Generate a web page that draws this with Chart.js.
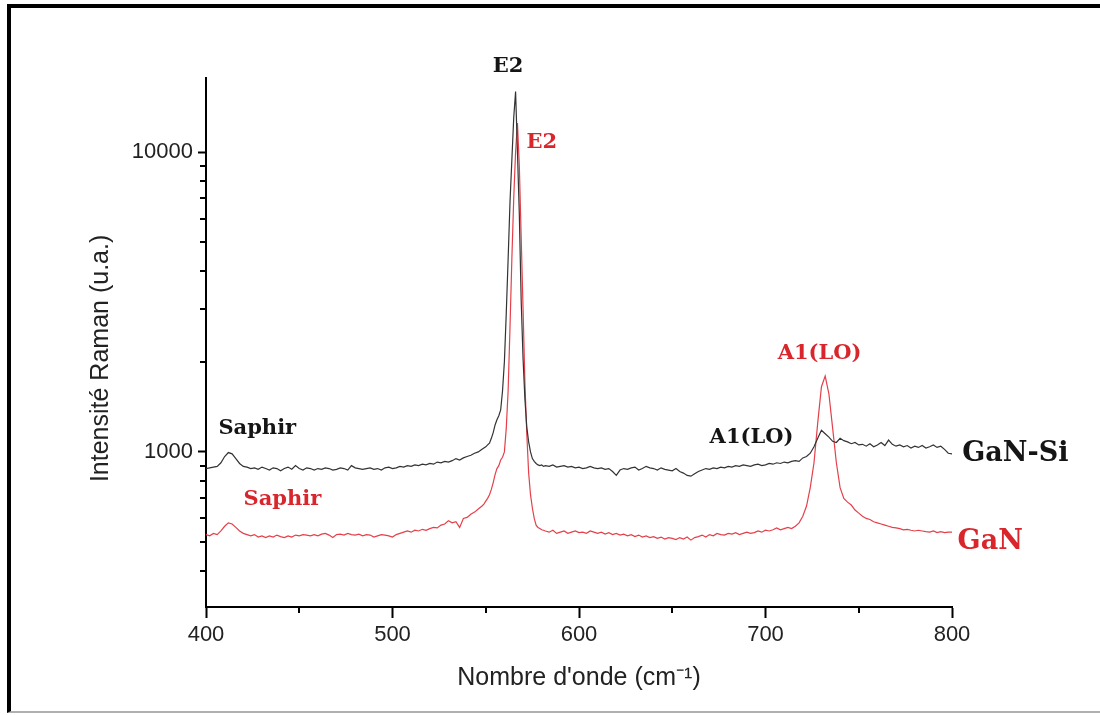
<!DOCTYPE html>
<html>
<head>
<meta charset="utf-8">
<script src="https://cdn.jsdelivr.net/npm/chart.js@4.4.0/dist/chart.umd.min.js"></script>
<style>
  html, body { margin: 0; padding: 0; background: #fff; overflow: hidden; }
  #frame {
    position: absolute; left: 7px; top: 4px; width: 1200px; height: 703px;
    border-left: 4px solid #000; border-top: 4px solid #000; border-bottom: 2px solid #b0b0b0;
  }
  #ramanChart { position: absolute; left: 0; top: 0; }
</style>
</head>
<body>
<div id="frame"></div>
<canvas id="ramanChart" width="1100" height="715"></canvas>
<script>
// sampling grid of the spectra (cm-1): 2 cm-1 steps, 1 cm-1 around the E2 peak
const waveNumbers = [];
for (let w = 400; w <= 548; w += 2) waveNumbers.push(w);
for (let w = 549; w <= 581; w++) waveNumbers.push(w);
for (let w = 582; w <= 800; w += 2) waveNumbers.push(w);

// GaN-Si spectrum (black)
const ganSi = [
  // 400 - 548
  880, 885, 890, 895, 920, 965, 995, 985, 950, 915,
  895, 890, 880, 885, 875, 890, 880, 870, 885, 880,
  865, 880, 890, 875, 900, 880, 870, 885, 880, 870,
  880, 875, 885, 880, 870, 875, 885, 880, 870, 900,
  885, 880, 875, 880, 885, 875, 880, 870, 885, 890,
  880, 885, 895, 890, 900, 895, 905, 900, 910, 905,
  915, 910, 925, 920, 930, 925, 935, 950, 940, 955,
  965, 975, 990, 1000, 1020,
  // 549 - 581
  1030, 1040, 1055, 1070, 1110, 1160, 1230, 1280, 1320, 1380,
  1600, 2000, 2900, 4400, 6800, 9400, 13000, 15900, 10000, 6200,
  3200, 2050, 1500, 1210, 1080, 1000, 950, 930, 915, 905,
  900, 905, 895,
  // 582 - 800
  900, 895, 905, 890, 895, 900, 890, 895, 885, 890,
  880, 885, 895, 885, 880, 885, 875, 880, 860, 835,
  870, 880, 875, 885, 890, 870, 880, 895, 885, 880,
  870, 885, 875, 870, 865, 880, 860, 850, 835, 830,
  845, 860, 870, 880, 875, 885, 880, 890, 885, 895,
  890, 900, 895, 905, 900, 895, 905, 910, 900, 905,
  915, 910, 920, 915, 925, 920, 930, 935, 930, 955,
  965, 990, 1040, 1110, 1180, 1150, 1120, 1085, 1075, 1110,
  1090, 1080, 1065, 1075, 1055, 1060, 1045, 1065, 1040, 1055,
  1075, 1050, 1095, 1060, 1045, 1055, 1040, 1050, 1030, 1045,
  1035, 1050, 1030, 1040, 1055, 1035, 1045, 1020, 990, 985
];

// GaN spectrum (red)
const gan = [
  // 400 - 548
  530, 525, 535, 530, 545, 565, 580, 575, 560, 545,
  535, 530, 525, 530, 520, 525, 518, 525, 520, 528,
  522, 518, 525, 520, 528, 525, 530, 528, 525, 530,
  525, 532, 535, 528, 518, 530, 532, 528, 535, 530,
  528, 532, 525, 530, 528, 520, 525, 530, 528, 525,
  520, 530, 535, 540, 545, 540, 548, 545, 552, 548,
  555, 560, 558, 570, 575, 590, 580, 585, 560, 600,
  605, 620, 630, 645, 660,
  // 549 - 581
  670, 685, 700, 720, 750, 790, 840, 880, 900, 940,
  960, 1000, 1200, 1600, 2600, 4400, 7000, 10000, 12500, 9000,
  5200, 3000, 1700, 1150, 850, 720, 650, 600, 570, 560,
  555, 550, 548,
  // 582 - 800
  545, 540, 548, 535, 540, 545, 535, 540, 545, 538,
  540, 535, 545, 540, 535, 540, 532, 538, 530, 535,
  528, 532, 525, 530, 522, 528, 520, 525, 518, 522,
  515, 520, 512, 518, 515, 510, 518, 512, 520, 508,
  518, 522, 528, 520, 530, 525, 535, 530, 528, 535,
  532, 538, 530, 535, 540, 535, 538, 545, 540, 548,
  545, 550, 558, 550, 555, 560, 555, 565, 580, 610,
  660, 760, 920, 1250, 1650, 1790, 1560, 1200, 920, 760,
  700, 680, 665, 640, 625, 610, 600, 595, 585, 580,
  575, 570, 565, 560, 558, 555, 550, 552, 548, 545,
  548, 545, 542, 540, 545, 538, 542, 538, 540, 540
];

const yMajorTicks = [1000, 10000];
const yMinorTicks = [400, 500, 600, 700, 800, 900, 2000, 3000, 4000, 5000, 6000, 7000, 8000, 9000];
const xMinorTicks = [450, 550, 650, 750];

const xTitle = "Nombre d'onde (cm\u207B\u00B9)";
const yTitle = 'Intensité Raman (u.a.)';

// peak labels, anchored at (wavenumber, intensity)
const black = '#151515';
const red = '#d8262c';
const peakLabels = [
  { text: 'E2', wn: 562, at: 19300, color: black, size: 21 },
  { text: 'E2', wn: 580, at: 10750, color: red, size: 21 },
  { text: 'Saphir', wn: 427.5, at: 1200, color: black, size: 21 },
  { text: 'Saphir', wn: 441, at: 692, color: red, size: 21 },
  { text: 'A1(LO)', wn: 729, at: 2120, color: red, size: 21 },
  { text: 'A1(LO)', wn: 692.5, at: 1117, color: black, size: 21 },
  { text: 'GaN-Si', wn: 834, at: 985, color: black, size: 27 },
  { text: 'GaN', wn: 820.5, at: 501, color: red, size: 27 }
];

const annotate = {
  id: 'annotate',
  afterDraw(chart) {
    const { ctx, scales: { x, y } } = chart;
    ctx.save();

    // minor tick marks
    ctx.strokeStyle = '#000';
    ctx.lineWidth = 2;
    ctx.beginPath();
    xMinorTicks.forEach(v => {
      const px = Math.round(x.getPixelForValue(v));
      ctx.moveTo(px, x.top);
      ctx.lineTo(px, x.top + 6);
    });
    yMinorTicks.forEach(v => {
      const py = Math.round(y.getPixelForValue(v));
      ctx.moveTo(y.right - 6, py);
      ctx.lineTo(y.right, py);
    });
    ctx.stroke();

    // peak labels
    ctx.textAlign = 'center';
    ctx.textBaseline = 'middle';
    peakLabels.forEach(l => {
      ctx.font = `bold ${l.size}px "DejaVu Serif"`;
      ctx.fillStyle = l.color;
      ctx.fillText(l.text, x.getPixelForValue(l.wn), y.getPixelForValue(l.at));
    });

    // y axis title
    ctx.translate(chart.chartArea.left - 105, y.getPixelForValue(2050));
    ctx.rotate(-Math.PI / 2);
    ctx.font = '25px "Liberation Sans"';
    ctx.fillStyle = '#222';
    ctx.fillText(yTitle, 0, 0);
    ctx.restore();
  }
};

const ctx = document.getElementById('ramanChart').getContext('2d');

const chart = new Chart(ctx, {
  type: 'line',
  data: {
    datasets: [
      {
        label: 'GaN-Si',
        borderColor: '#333333',
        data: waveNumbers.map((w, i) => ({ x: w, y: ganSi[i] }))
      },
      {
        label: 'GaN',
        borderColor: '#e5404a',
        data: waveNumbers.map((w, i) => ({ x: w, y: gan[i] }))
      }
    ]
  },
  options: {
    responsive: false,
    animation: false,
    devicePixelRatio: 1,
    layout: { padding: { left: 106, right: 148, top: 78, bottom: 18 } },
    elements: {
      point: { radius: 0 },
      line: { borderWidth: 1.2, tension: 0 }
    },
    plugins: {
      legend: { display: false },
      tooltip: { enabled: false }
    },
    scales: {
      x: {
        type: 'linear',
        min: 400,
        max: 800,
        afterFit: s => { s.height = 90; },
        border: { color: '#000', width: 2 },
        grid: { drawOnChartArea: false, tickLength: 11, tickColor: '#000', tickWidth: 2 },
        ticks: {
          stepSize: 100,
          padding: 4,
          maxRotation: 0,
          color: '#222',
          font: { family: 'Liberation Sans', size: 22 }
        },
        title: {
          display: true,
          text: xTitle,
          color: '#222',
          font: { family: 'Liberation Sans', size: 25 },
          padding: { top: 0, bottom: 4 }
        }
      },
      y: {
        type: 'logarithmic',
        min: 304,
        max: 17650,
        afterFit: s => { s.width = 100; },
        afterBuildTicks: s => { s.ticks = yMajorTicks.map(v => ({ value: v })); },
        border: { color: '#000', width: 2 },
        grid: { drawOnChartArea: false, tickLength: 8, tickColor: '#000', tickWidth: 2 },
        ticks: {
          padding: 5,
          color: '#222',
          font: { family: 'Liberation Sans', size: 22 },
          callback: v => String(v)
        }
      }
    }
  },
  plugins: [annotate]
});
</script>
</body>
</html>
